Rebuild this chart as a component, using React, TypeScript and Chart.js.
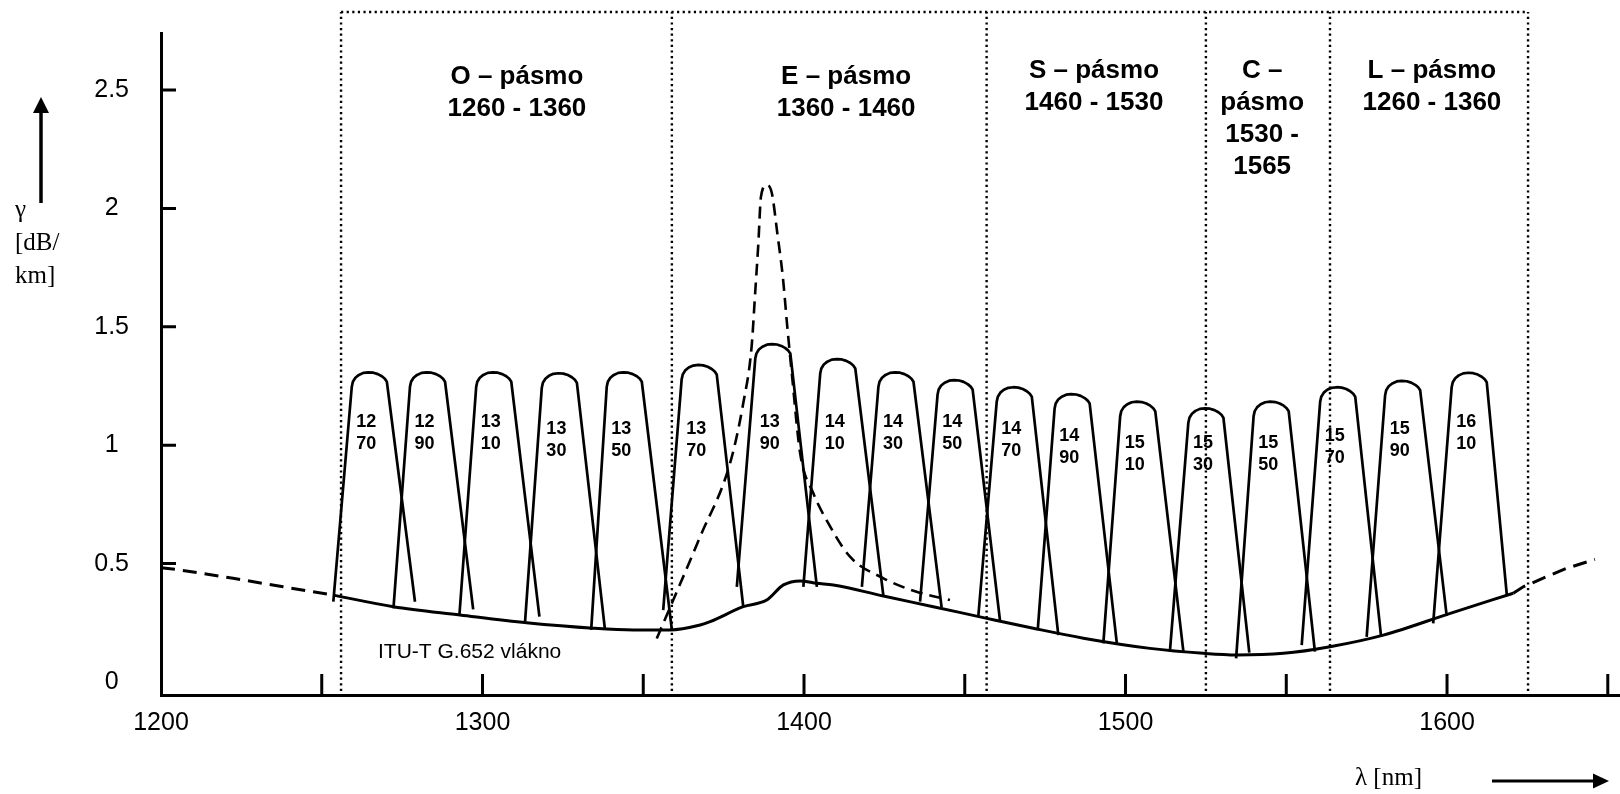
import React, { useEffect, useRef } from 'react';
import { Chart, registerables } from 'chart.js';

Chart.register(...registerables);

// ---------- axes ----------
const X_MIN = 1200;
const X_MAX = 1653.8;
const Y_MIN = -0.0549;
const Y_MAX = 2.741;
const xTickValues = [1200, 1300, 1400, 1500, 1600];
const xTickLabels = ['1200', '1300', '1400', '1500', '1600'];
const yTickValues = [0, 0.5, 1, 1.5, 2, 2.5];
const yTickLabels = ['0', '0.5', '1', '1.5', '2', '2.5'];
const xInnerTicks = [1250, 1300, 1350, 1400, 1450, 1500, 1550, 1600, 1650];
const yInnerTicks = [0.5, 1, 1.5, 2, 2.5];

// ---------- fibre attenuation (ITU-T G.652) ----------
const fiberLambda = [1253.6, 1272.3, 1293.0, 1313.7, 1334.5, 1346.9, 1358.3, 1367.7, 1370.8, 1381.1, 1388.4, 1393.6, 1398.8, 1404.0, 1409.1, 1424.7, 1440.2, 1455.8, 1471.3, 1486.9, 1507.6, 1524.2, 1534.6, 1549.1, 1563.6, 1580.2, 1601.0, 1620.6];
const fiberGamma = [0.367, 0.318, 0.283, 0.250, 0.227, 0.220, 0.220, 0.241, 0.255, 0.318, 0.346, 0.410, 0.427, 0.417, 0.410, 0.363, 0.318, 0.272, 0.227, 0.185, 0.142, 0.121, 0.114, 0.121, 0.149, 0.198, 0.290, 0.375];
const fiberLeftLambda = [1200, 1205.5, 1222.4, 1238.0, 1253.6];
const fiberLeftGamma = [0.483, 0.474, 0.438, 0.402, 0.367];
const fiberRightLambda = [1620.6, 1623.7, 1631.0, 1637.2, 1646.0];
const fiberRightGamma = [0.375, 0.402, 0.445, 0.480, 0.518];

// ---------- water peak (dashed) ----------
const peakLambda = [1354.2, 1367.7, 1377.0, 1381.1, 1383.7, 1384.8, 1385.8, 1386.6, 1388.4, 1390.0, 1391.7, 1393.4, 1394.8, 1396.2, 1398.8, 1402.9, 1407.0, 1414.3, 1424.7, 1435.0, 1445.4];
const peakGamma = [0.184, 0.614, 0.924, 1.177, 1.416, 1.642, 1.853, 2.049, 2.099, 2.064, 1.895, 1.712, 1.500, 1.304, 0.966, 0.797, 0.684, 0.529, 0.438, 0.381, 0.346];

// ---------- CWDM channels ----------
const channelLabels = ['1270', '1290', '1310', '1330', '1350', '1370', '1390', '1410', '1430', '1450', '1470', '1490', '1510', '1530', '1550', '1570', '1590', '1610'];
const channelApexLambda = [1264.5, 1282.6, 1303.2, 1323.6, 1343.8, 1367.1, 1390.0, 1410.2, 1428.3, 1446.7, 1465.1, 1483.1, 1503.5, 1524.7, 1545.0, 1565.7, 1585.9, 1606.6];
const channelApexGamma = [1.308, 1.308, 1.308, 1.304, 1.308, 1.339, 1.427, 1.364, 1.308, 1.275, 1.245, 1.216, 1.184, 1.156, 1.184, 1.245, 1.272, 1.306];
const channelLeftFootLambda = [1253.6, 1272.3, 1292.8, 1313.2, 1333.8, 1356.2, 1379.1, 1399.8, 1418.0, 1436.1, 1454.2, 1472.7, 1493.1, 1513.8, 1534.4, 1554.8, 1575.0, 1595.7];
const channelLeftFootGamma = [0.339, 0.311, 0.279, 0.248, 0.220, 0.304, 0.402, 0.402, 0.402, 0.339, 0.276, 0.220, 0.163, 0.128, 0.100, 0.156, 0.191, 0.248];
const channelRightFootLambda = [1279.0, 1297.1, 1317.7, 1338.1, 1358.9, 1381.1, 1404.0, 1424.7, 1442.8, 1461.0, 1479.1, 1497.3, 1518.0, 1538.5, 1558.9, 1579.5, 1599.9, 1618.6];
const channelRightFootGamma = [0.339, 0.307, 0.276, 0.220, 0.220, 0.318, 0.402, 0.363, 0.315, 0.255, 0.198, 0.163, 0.128, 0.124, 0.128, 0.191, 0.279, 0.367];
const channelLabelGamma = [1.111, 1.111, 1.111, 1.081, 1.081, 1.081, 1.111, 1.111, 1.111, 1.111, 1.081, 1.052, 1.022, 1.022, 1.022, 1.052, 1.081, 1.111];

// ---------- bands ----------
const bandEdges = [1256.0, 1358.9, 1456.8, 1525.0, 1563.6, 1625.2];
const bandTopGamma = 2.83;
const bandBottomGamma = -0.038;
const bandLabelLines = [
  ['O – pásmo', '1260 - 1360'],
  ['E – pásmo', '1360 - 1460'],
  ['S – pásmo', '1460 - 1530'],
  ['C –', 'pásmo', '1530 -', '1565'],
  ['L – pásmo', '1260 - 1360'],
];
const bandLabelLambda = [1310.7, 1413.1, 1490.2, 1542.5, 1595.3];
const bandLabelGamma = [2.568, 2.568, 2.593, 2.593, 2.593];

const fiberLabel = 'ITU-T G.652 vlákno';
const fiberLabelLambda = 1267.5;
const fiberLabelGamma = 0.11;

// shape of the rounded filter top (geometry, nm / dB offsets from apex)
const ARCH_DX = [-5.16, -4.82, -4.04, -2.95, -1.56, 0, 1.56, 2.95, 4.2, 5.13, 5.75];
const ARCH_DY = [-0.061, -0.04, -0.023, -0.011, -0.0025, 0, -0.0017, -0.0076, -0.0169, -0.0275, -0.04];

const SANS = "'Liberation Sans', Arial, Helvetica, sans-serif";
const SERIF = "'Liberation Serif', 'Times New Roman', serif";

const pts = (xs: number[], ys: number[]) => xs.map((x, i) => ({ x, y: ys[i] }));

const decorPlugin = {
  id: 'decor',
  afterDraw(chart: any) {
    const ctx = chart.ctx as CanvasRenderingContext2D;
    const xs = chart.scales.x;
    const ys = chart.scales.y;
    const X = (v: number) => xs.getPixelForValue(v);
    const Y = (v: number) => ys.getPixelForValue(v);
    const { left, bottom } = chart.chartArea;
    ctx.save();
    ctx.strokeStyle = '#000';
    ctx.fillStyle = '#000';
    ctx.lineCap = 'butt';
    ctx.setLineDash([]);

    // inward ticks
    ctx.lineWidth = 3;
    ctx.beginPath();
    xInnerTicks.forEach((v) => {
      const px = X(v);
      ctx.moveTo(px, bottom);
      ctx.lineTo(px, bottom - 21);
    });
    yInnerTicks.forEach((v) => {
      const py = Y(v);
      ctx.moveTo(left, py);
      ctx.lineTo(left + 15, py);
    });
    ctx.stroke();

    // band labels
    ctx.font = `bold 26px ${SANS}`;
    ctx.textAlign = 'center';
    ctx.textBaseline = 'middle';
    bandLabelLines.forEach((lines, i) => {
      lines.forEach((t, j) => {
        ctx.fillText(t, X(bandLabelLambda[i]), Y(bandLabelGamma[i]) + 3 + j * 32);
      });
    });

    // channel labels
    ctx.font = `bold 18px ${SANS}`;
    channelLabels.forEach((lab, i) => {
      const cx = X(channelApexLambda[i]) - 2;
      const cy = Y(channelLabelGamma[i]) + 3;
      ctx.fillText(lab.slice(0, 2), cx, cy);
      ctx.fillText(lab.slice(2), cx, cy + 22);
    });

    // fibre label
    ctx.font = `21px ${SANS}`;
    ctx.textAlign = 'left';
    ctx.textBaseline = 'alphabetic';
    ctx.fillText(fiberLabel, X(fiberLabelLambda), Y(fiberLabelGamma) + 2);

    // axis titles (serif)
    ctx.font = `25px ${SERIF}`;
    ctx.fillText('γ', 15, 217);
    ctx.fillText('[dB/', 15, 250);
    ctx.fillText('km]', 15, 283);
    ctx.fillText('λ [nm]', 1355, 785);

    // up arrow
    ctx.lineWidth = 3.5;
    ctx.beginPath();
    ctx.moveTo(41, 203);
    ctx.lineTo(41, 110);
    ctx.stroke();
    ctx.beginPath();
    ctx.moveTo(41, 97);
    ctx.lineTo(49, 113);
    ctx.lineTo(33, 113);
    ctx.closePath();
    ctx.fill();

    // right arrow
    ctx.lineWidth = 3;
    ctx.beginPath();
    ctx.moveTo(1492, 781);
    ctx.lineTo(1596, 781);
    ctx.stroke();
    ctx.beginPath();
    ctx.moveTo(1609, 781);
    ctx.lineTo(1593, 773.5);
    ctx.lineTo(1593, 788.5);
    ctx.closePath();
    ctx.fill();

    ctx.restore();
  },
};

export default function App() {
  const ref = useRef<HTMLCanvasElement | null>(null);

  useEffect(() => {
    document.body.style.margin = '0';
    const canvas = ref.current;
    if (!canvas) return;

    const datasets: any[] = [];
    const base = { showLine: true, pointRadius: 0, borderColor: '#000', backgroundColor: '#000', fill: false, clip: false };

    // band boundaries (dotted)
    bandEdges.forEach((e) => {
      datasets.push({ ...base, data: [{ x: e, y: bandBottomGamma }, { x: e, y: bandTopGamma }], borderWidth: 2.4, borderDash: [2.2, 3.4] });
    });
    datasets.push({ ...base, data: [{ x: bandEdges[0], y: bandTopGamma }, { x: bandEdges[bandEdges.length - 1], y: bandTopGamma }], borderWidth: 2.4, borderDash: [2.2, 3.4] });

    // fibre curve
    datasets.push({ ...base, data: pts(fiberLambda, fiberGamma), borderWidth: 3, cubicInterpolationMode: 'monotone' });
    datasets.push({ ...base, data: pts(fiberLeftLambda, fiberLeftGamma), borderWidth: 3, borderDash: [14, 8] });
    datasets.push({ ...base, data: pts(fiberRightLambda, fiberRightGamma), borderWidth: 3, borderDash: [14, 8] });

    // water peak
    datasets.push({ ...base, data: pts(peakLambda, peakGamma), borderWidth: 2.6, borderDash: [12, 7], cubicInterpolationMode: 'monotone' });

    // channel filters
    channelLabels.forEach((_, i) => {
      const d: { x: number; y: number }[] = [];
      d.push({ x: channelLeftFootLambda[i], y: channelLeftFootGamma[i] });
      ARCH_DX.forEach((dx, k) => {
        d.push({ x: channelApexLambda[i] + dx, y: channelApexGamma[i] + ARCH_DY[k] });
      });
      d.push({ x: channelRightFootLambda[i], y: channelRightFootGamma[i] });
      datasets.push({ ...base, data: d, borderWidth: 2.7, borderJoinStyle: 'round' });
    });

    const chart = new Chart(canvas, {
      type: 'scatter',
      data: { datasets },
      options: {
        animation: false,
        responsive: false,
        devicePixelRatio: 1,
        layout: { padding: { left: 0, right: 0, top: 33, bottom: 0 } },
        plugins: { legend: { display: false }, tooltip: { enabled: false } },
        scales: {
          x: {
            type: 'linear',
            min: X_MIN,
            max: X_MAX,
            afterFit: (s: any) => { s.height = 99; s.paddingLeft = 0; s.paddingRight = 0; s.paddingTop = 0; s.paddingBottom = 0; },
            afterBuildTicks: (s: any) => { s.ticks = xTickValues.map((v) => ({ value: v })); },
            grid: { drawOnChartArea: false, drawTicks: false },
            border: { display: true, color: '#000', width: 3 },
            ticks: {
              padding: 13,
              color: '#000',
              font: { family: SANS, size: 25 },
              maxRotation: 0,
              autoSkip: false,
              callback: (_v: any, i: number) => xTickLabels[i],
            },
          },
          y: {
            type: 'linear',
            min: Y_MIN,
            max: Y_MAX,
            afterFit: (s: any) => { s.width = 161; s.paddingLeft = 0; s.paddingRight = 0; s.paddingTop = 0; s.paddingBottom = 0; },
            afterBuildTicks: (s: any) => { s.ticks = yTickValues.map((v) => ({ value: v })); },
            grid: { drawOnChartArea: false, drawTicks: false },
            border: { display: true, color: '#000', width: 3 },
            ticks: {
              padding: 32,
              crossAlign: 'center',
              color: '#000',
              font: { family: SANS, size: 25 },
              autoSkip: false,
              callback: (_v: any, i: number) => yTickLabels[i],
            },
          },
        },
      } as any,
      plugins: [decorPlugin],
    });

    return () => chart.destroy();
  }, []);

  return (
    <div style={{ width: 1620, height: 794, background: '#fff' }}>
      <canvas ref={ref} width={1620} height={794} style={{ display: 'block', width: 1620, height: 794 }} />
    </div>
  );
}
